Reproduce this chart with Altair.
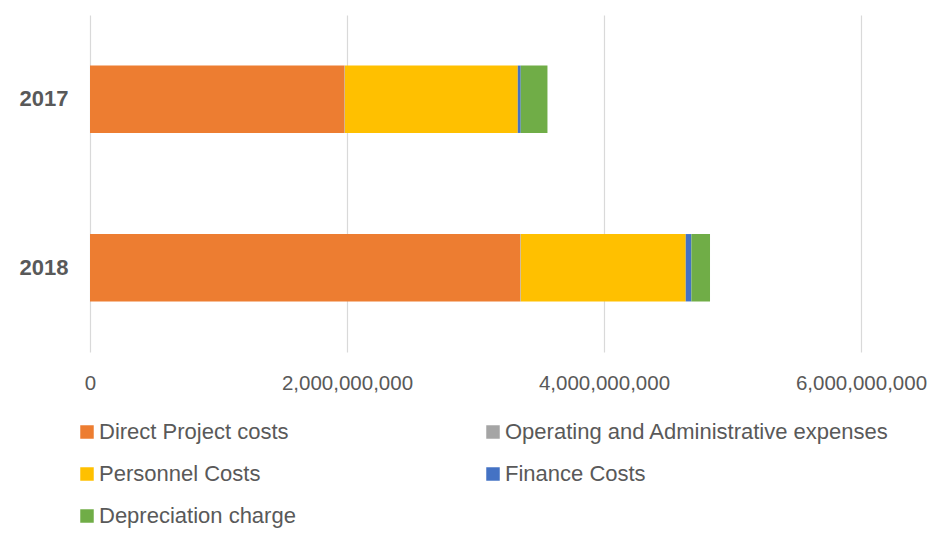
import altair as alt
import pandas as pd

years = ["2017", "2018"]
categories = [
    "Direct Project costs",
    "Operating and Administrative expenses",
    "Personnel Costs",
    "Finance Costs",
    "Depreciation charge",
]
colors = ["#ED7D31", "#A5A5A5", "#FFC000", "#4472C4", "#70AD47"]
values_2017 = [1981000000, 3000000, 1345000000, 23000000, 208000000]
values_2018 = [3349000000, 4000000, 1283000000, 44000000, 145000000]
x_ticks = [0, 2000000000, 4000000000, 6000000000]

rows = []
for yr, vals in zip(years, [values_2017, values_2018]):
    for i, (c, v) in enumerate(zip(categories, vals)):
        rows.append({"Year": yr, "Category": c, "Value": v, "order": i})
df = pd.DataFrame(rows)

FONT = "Liberation Sans"
GREY = "#595959"

chart = (
    alt.Chart(df)
    .mark_bar()
    .encode(
        y=alt.Y(
            "Year:N",
            sort=years,
            title=None,
            scale=alt.Scale(paddingInner=0.6, paddingOuter=0.3),
            axis=alt.Axis(
                ticks=False,
                domain=False,
                labelFont=FONT,
                labelFontSize=22,
                labelFontWeight="bold",
                labelColor=GREY,
                labelPadding=22,
            ),
        ),
        x=alt.X(
            "Value:Q",
            stack="zero",
            title=None,
            scale=alt.Scale(domain=[0, 6000000000], nice=False),
            axis=alt.Axis(
                values=x_ticks,
                format=",d",
                ticks=False,
                domain=False,
                grid=True,
                gridColor="#D9D9D9",
                gridWidth=1.2,
                labelFont=FONT,
                labelFontSize=20.5,
                labelColor=GREY,
                labelPadding=21,
                labelOverlap=False,
                labelFlush=False,
            ),
        ),
        color=alt.Color(
            "Category:N",
            sort=categories,
            scale=alt.Scale(domain=categories, range=colors),
            legend=alt.Legend(
                title=None,
                orient="none",
                legendX=-14,
                legendY=406,
                columns=2,
                direction="horizontal",
                symbolType="square",
                symbolSize=182,
                symbolStrokeWidth=0,
                labelFont=FONT,
                labelFontSize=22,
                labelColor=GREY,
                labelOffset=1,
                labelLimit=500,
                columnPadding=186,
                rowPadding=20,
                padding=0,
            ),
        ),
        order=alt.Order("order:Q"),
    )
    .properties(
        width=771,
        height=337,
        autosize=alt.AutoSizeParams(type="none"),
        padding={"left": 82, "top": 7, "right": 66, "bottom": 177},
    )
    .configure_view(stroke=None)
)

chart.save("out.html", embed_options={"renderer": "svg", "actions": False})
